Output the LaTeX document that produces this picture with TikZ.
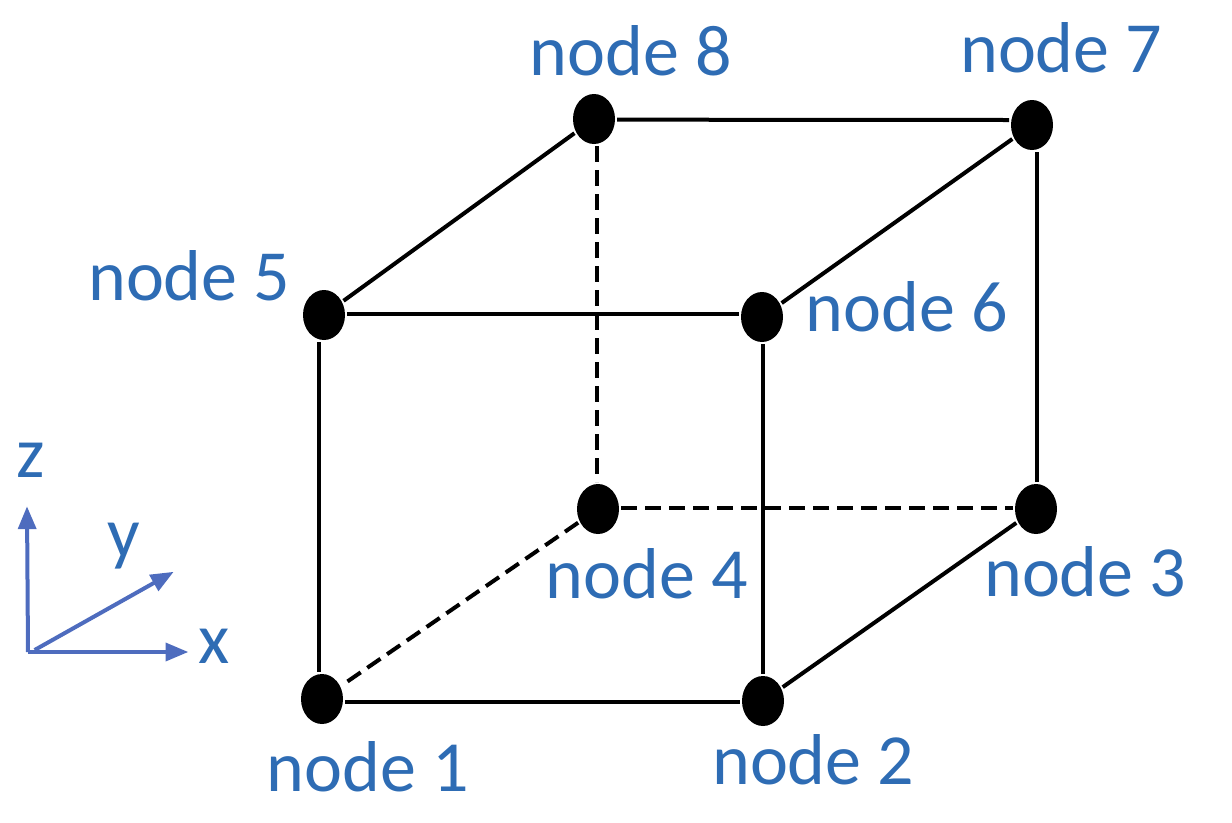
\documentclass[tikz,border=0pt]{standalone}
\usepackage{fontspec}
\setmainfont{Carlito}
\usepackage{color}
\usetikzlibrary{arrows, shapes.geometric}

\definecolor{labelblue}{RGB}{46,108,180}
\definecolor{axisblue}{RGB}{78,108,190}

\begin{document}
\begin{tikzpicture}[
            x = 1pt, y = -1pt,
            > = latex, % arrow head style
            line width = 3pt % line style
        ]

        \tikzstyle{every node}=[
            inner sep = 0pt
        ]
        \tikzstyle{corner}=[
            draw = none,
            fill = black,
            ellipse,
            minimum width = 31.5pt,
            minimum height = 37.5pt
        ]
        \tikzstyle{tag}=[
            text = labelblue,
            font = \fontsize{54}{54}\selectfont
        ]
        \tikzstyle{axis}=[
            ->,
            draw = axisblue,
            line width = 3pt,
            >=triangle 45
        ]
        \tikzstyle{hidden}=[
            dash pattern = on 12pt off 6pt
        ]

        \useasboundingbox (0,0) rectangle (924,616.5);

        \node[corner] (a) at (241.5,524.25) {};
        \node[corner] (b) at (572.25,525.75) {};
        \node[corner] (c) at (777,381.75) {};
        \node[corner] (d) at (448.5,381.75) {};
        \node[corner] (e) at (243,236.25) {};
        \node[corner] (f) at (571.5,237.75) {};
        \node[corner] (g) at (774,93.75) {};
        \node[corner] (h) at (445.5,89.25) {};

        % dashed edges
        \draw[hidden] ([xshift=2.25pt]h.south) -- ([xshift=-0.75pt]d.north);
        \draw[hidden] ([yshift=0.75pt]d.east) -- ([yshift=0.75pt]c.west);
        \draw[hidden] (d) -- (a);

        \draw ([yshift=-2.25pt]a.east) -- ([yshift=-0.75pt]b.west);
        \draw (b) -- (c);
        \draw ([xshift=0.75pt]c.north) -- ([xshift=3.75pt]g.south);
        \draw ([yshift=3.75pt]g.west) -- ([yshift=-0.5pt]h.east);
        \draw (h) -- (e);
        \draw ([xshift=-3.75pt]e.south) -- ([xshift=-2.25pt]a.north);
        \draw ([yshift=0.75pt]e.east) -- ([yshift=2.25pt]f.west);
        \draw (f) -- (g);
        \draw ([xshift=0.75pt]f.south) -- (b.north);

        \node[tag] (la) at (276,575) {node 1};
        \node[tag] (lb) at (610,570) {node 2};
        \node[tag] (lc) at (814,429) {node 3};
        \node[tag] (ld) at (485,430) {node 4};
        \node[tag] (le) at (142,207) {node 5};
        \node[tag] (lf) at (680,230) {node 6};
        \node[tag] (lg) at (796,36) {node 7};
        \node[tag] (lh) at (473,38) {node 8};

        \coordinate (o) at (21,489);
        \coordinate (oo) at (26,487.5);
        \coordinate (ox) at (141,489);
        \coordinate (oy) at (130,429);
        \coordinate (oz) at (20.25,380);
        \draw[axis] (o) -- (ox);
        \draw[axis] (oo) -- (oy);
        \draw[axis] (o) -- (oz);

        \node[tag] (lx) at (160.5,485) {x};
        \node[tag] (ly) at (93,409.5) {y};
        \node[tag] (lz) at (23,345) {z};

  \end{tikzpicture}
\end{document}
